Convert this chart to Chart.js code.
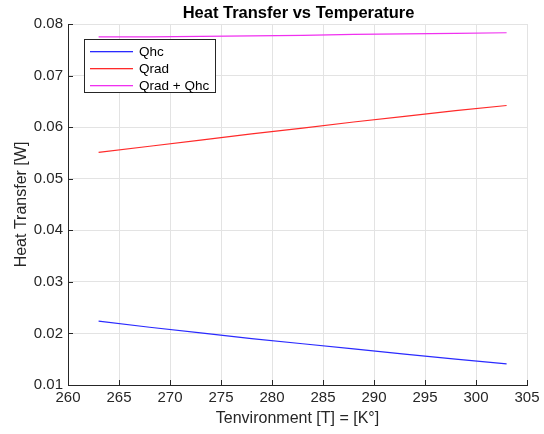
<!DOCTYPE html>
<html>
<head>
<meta charset="utf-8">
<script src="https://cdn.jsdelivr.net/npm/chart.js@4"></script>
<style>
  html, body { margin: 0; padding: 0; background: #ffffff; }
  #wrap { width: 544px; height: 434px; }
</style>
</head>
<body>
<div id="wrap"><canvas id="c" width="544" height="434"></canvas></div>
<script>
const temperatures = [263, 268, 273, 278, 283, 288, 293, 298, 303];
const qhc = [0.0224, 0.0212, 0.0201, 0.0190, 0.0180, 0.0170, 0.0160, 0.0150, 0.0141];
const qrad = [0.0551, 0.0563, 0.0575, 0.0587, 0.0598, 0.0610, 0.0621, 0.0632, 0.0642];
const qsum = [0.0775, 0.0775, 0.0776, 0.0777, 0.0778, 0.0780, 0.0781, 0.0782, 0.0783];
const seriesNames = ['Qhc', 'Qrad', 'Qrad + Qhc'];
const seriesColors = ['#2a2aff', '#ff2a2a', '#f030f0'];
const xTicks = [260, 265, 270, 275, 280, 285, 290, 295, 300, 305];
const yTicks = [0.01, 0.02, 0.03, 0.04, 0.05, 0.06, 0.07, 0.08];
const titleText = 'Heat Transfer vs Temperature';
const xTitle = 'Tenvironment [T] = [K\u00b0]';
const yTitle = 'Heat Transfer [W]';

const FONT = "'Liberation Sans', Arial, Helvetica, sans-serif";
const AXIS = '#262626';

function pts(vals) { return temperatures.map((t, i) => ({ x: t, y: vals[i] })); }

const innerTicks = {
  id: 'innerTicks',
  afterDatasetsDraw(chart) {
    const ctx = chart.ctx, a = chart.chartArea;
    const xs = chart.scales.x, ys = chart.scales.y;
    ctx.save();
    ctx.fillStyle = AXIS;
    xTicks.forEach(v => {
      const px = Math.round(xs.getPixelForValue(v));
      ctx.fillRect(px, a.bottom - 5, 1, 5);
    });
    yTicks.forEach(v => {
      const py = Math.round(ys.getPixelForValue(v));
      ctx.fillRect(a.left, py, 5, 1);
    });
    // title centered over plot area
    ctx.fillStyle = '#000000';
    ctx.font = 'bold 16.5px ' + FONT;
    ctx.textAlign = 'center';
    ctx.textBaseline = 'middle';
    ctx.fillText(titleText, (a.left + a.right) / 2 + 1, 13);
    // legend box
    const lx = 84, ly = 39, lw = 131, lh = 53;
    ctx.fillStyle = '#ffffff';
    ctx.fillRect(lx, ly, lw, lh);
    ctx.fillStyle = '#262626';
    ctx.fillRect(lx, ly, lw + 1, 1);
    ctx.fillRect(lx, ly + lh, lw + 1, 1);
    ctx.fillRect(lx, ly, 1, lh + 1);
    ctx.fillRect(lx + lw, ly, 1, lh + 1);
    ctx.font = '13.5px ' + FONT;
    ctx.textAlign = 'left';
    seriesNames.forEach((name, i) => {
      const y = 51 + i * 17;
      ctx.fillStyle = seriesColors[i];
      ctx.fillRect(90, y, 43, 1.3);
      ctx.fillStyle = '#000000';
      ctx.fillText(name, 139, y + 1);
    });
    ctx.restore();
  }
};

new Chart(document.getElementById('c'), {
  type: 'line',
  data: {
    datasets: [
      { label: seriesNames[0], data: pts(qhc), borderColor: seriesColors[0], borderWidth: 1.2, pointRadius: 0, fill: false, tension: 0 },
      { label: seriesNames[1], data: pts(qrad), borderColor: seriesColors[1], borderWidth: 1.2, pointRadius: 0, fill: false, tension: 0 },
      { label: seriesNames[2], data: pts(qsum), borderColor: seriesColors[2], borderWidth: 1.2, pointRadius: 0, fill: false, tension: 0 }
    ]
  },
  options: {
    responsive: false,
    animation: false,
    layout: { padding: { top: 24, right: 17, left: 0, bottom: 0 } },
    plugins: { legend: { display: false }, title: { display: false }, tooltip: { enabled: false } },
    scales: {
      x: {
        type: 'linear', min: 260, max: 305,
        afterBuildTicks(s) { s.ticks = xTicks.map(v => ({ value: v })); },
        afterFit(s) { s.height = 49; },
        grid: { color: '#e3e3e3', drawTicks: false, lineWidth: 1 },
        border: { display: true, color: AXIS, width: 1 },
        ticks: { color: '#262626', font: { family: FONT, size: 15 }, padding: 4, maxRotation: 0 },
        title: { display: true, text: xTitle, color: '#262626', font: { family: FONT, size: 16 }, padding: { top: 0, bottom: 6 } }
      },
      y: {
        type: 'linear', min: 0.01, max: 0.08,
        afterBuildTicks(s) { s.ticks = yTicks.map(v => ({ value: v })); },
        afterFit(s) { s.width = 68; },
        grid: { color: '#e3e3e3', drawTicks: false, lineWidth: 1 },
        border: { display: true, color: AXIS, width: 1 },
        ticks: { color: '#262626', font: { family: FONT, size: 15 }, padding: 5, callback: v => v.toFixed(2) },
        title: { display: true, text: yTitle, color: '#262626', font: { family: FONT, size: 16 }, padding: { top: 12, bottom: 0 } }
      }
    }
  },
  plugins: [innerTicks]
});
</script>
</body>
</html>
